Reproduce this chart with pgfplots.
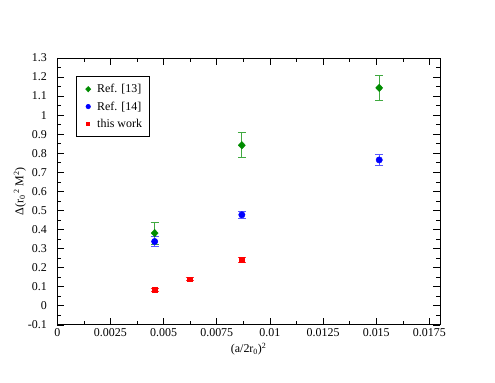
\documentclass[border=0pt]{standalone}
\usepackage{fontspec}
\setmainfont{Liberation Serif}
\usepackage{pgfplots}
\usepackage{pgfplotstable}
\pgfplotsset{compat=1.18}
\definecolor{ggreen}{rgb}{0,0.55,0}
\pgfplotstableread{
x y ey
0.00458 0.381 0.057
0.00868 0.842 0.066
0.01514 1.143 0.067
}\refA
\pgfplotstableread{
x y ey
0.00458 0.337 0.028
0.00868 0.477 0.016
0.01514 0.765 0.031
}\refB
\pgfplotstableread{
x y ey
0.00458 0.085 0.008
0.00623 0.140 0.009
0.00868 0.241 0.011
}\thiswork
\begin{document}
\begin{tikzpicture}
\begin{axis}[
 scale only axis, width=383bp, height=267bp,
 xmin=0, xmax=0.018, ymin=-0.1, ymax=1.3,
 xtick={0,0.0025,0.005,0.0075,0.01,0.0125,0.015,0.0175},
 xticklabels={0,0.0025,0.005,0.0075,0.01,0.0125,0.015,0.0175},
 ytick={-0.1,0,0.1,0.2,0.3,0.4,0.5,0.6,0.7,0.8,0.9,1,1.1,1.2,1.3},
 yticklabels={-0.1,0,0.1,0.2,0.3,0.4,0.5,0.6,0.7,0.8,0.9,1,1.1,1.2,1.3},
 minor x tick num=1, minor y tick num=1,
 tick align=inside, major tick length=7bp, minor tick length=4bp,
 tick style={black, line width=0.6pt},
 axis line style={line width=0.8pt},
 tick label style={font=\fontsize{12}{14}\selectfont},
 yticklabel style={xshift=-7bp},
 label style={font=\fontsize{12}{14}\selectfont},
 ylabel style={yshift=-5bp},
 scaled ticks=false,
 xlabel={(a/2r\textsubscript{0})\textsuperscript{2}},
 ylabel={Δ(r\textsubscript{0}\textsuperscript{\,2} M\textsuperscript{2})},
 legend style={at={(axis description cs:0.0488,0.9326)}, anchor=north west,
   draw=black, line width=0.6pt, font=\fontsize{12}{14}\selectfont,
   row sep=3.5bp, inner xsep=5bp, inner ysep=6bp,
   /tikz/every even column/.append style={column sep=8bp}},
 legend cell align=left,
 legend image code/.code={\path[draw=none] (-7bp,0) -- (7bp,0); \draw[#1, mark size=0.7*\pgfplotmarksize] plot coordinates {(0,0)};},
 error bars/error bar style={line width=0.7pt},
]
\coordinate (bl) at (rel axis cs:-0.1496,-0.2172);
\coordinate (tr) at (rel axis cs:1.1436,1.2172);
\addplot[only marks, mark=diamond*, mark size=3.8bp, mark options={xscale=1.25}, color=ggreen,
  error bars/.cd, y dir=both, y explicit, error bar style={draw=ggreen!75!white}, error mark options={draw=ggreen!75!white, rotate=90, mark size=4bp, line width=0.7pt}]
  table[x=x, y=y, y error=ey] {\refA};
\addlegendentry{Ref. [13]}
\addplot[only marks, mark=*, mark size=3.2bp, color=blue,
  error bars/.cd, y dir=both, y explicit, error bar style={draw=blue!65!white}, error mark options={draw=blue!65!white, rotate=90, mark size=4bp, line width=0.7pt}]
  table[x=x, y=y, y error=ey] {\refB};
\addlegendentry{Ref. [14]}
\addplot[only marks, mark=square*, mark size=2.2bp, color=red,
  error bars/.cd, y dir=both, y explicit, error bar style={draw=red!80!white}, error mark options={draw=red!80!white, rotate=90, mark size=4bp, line width=0.7pt}]
  table[x=x, y=y, y error=ey] {\thiswork};
\addlegendentry{this work}
\end{axis}
\path (bl) rectangle (tr);
\end{tikzpicture}
\end{document}
